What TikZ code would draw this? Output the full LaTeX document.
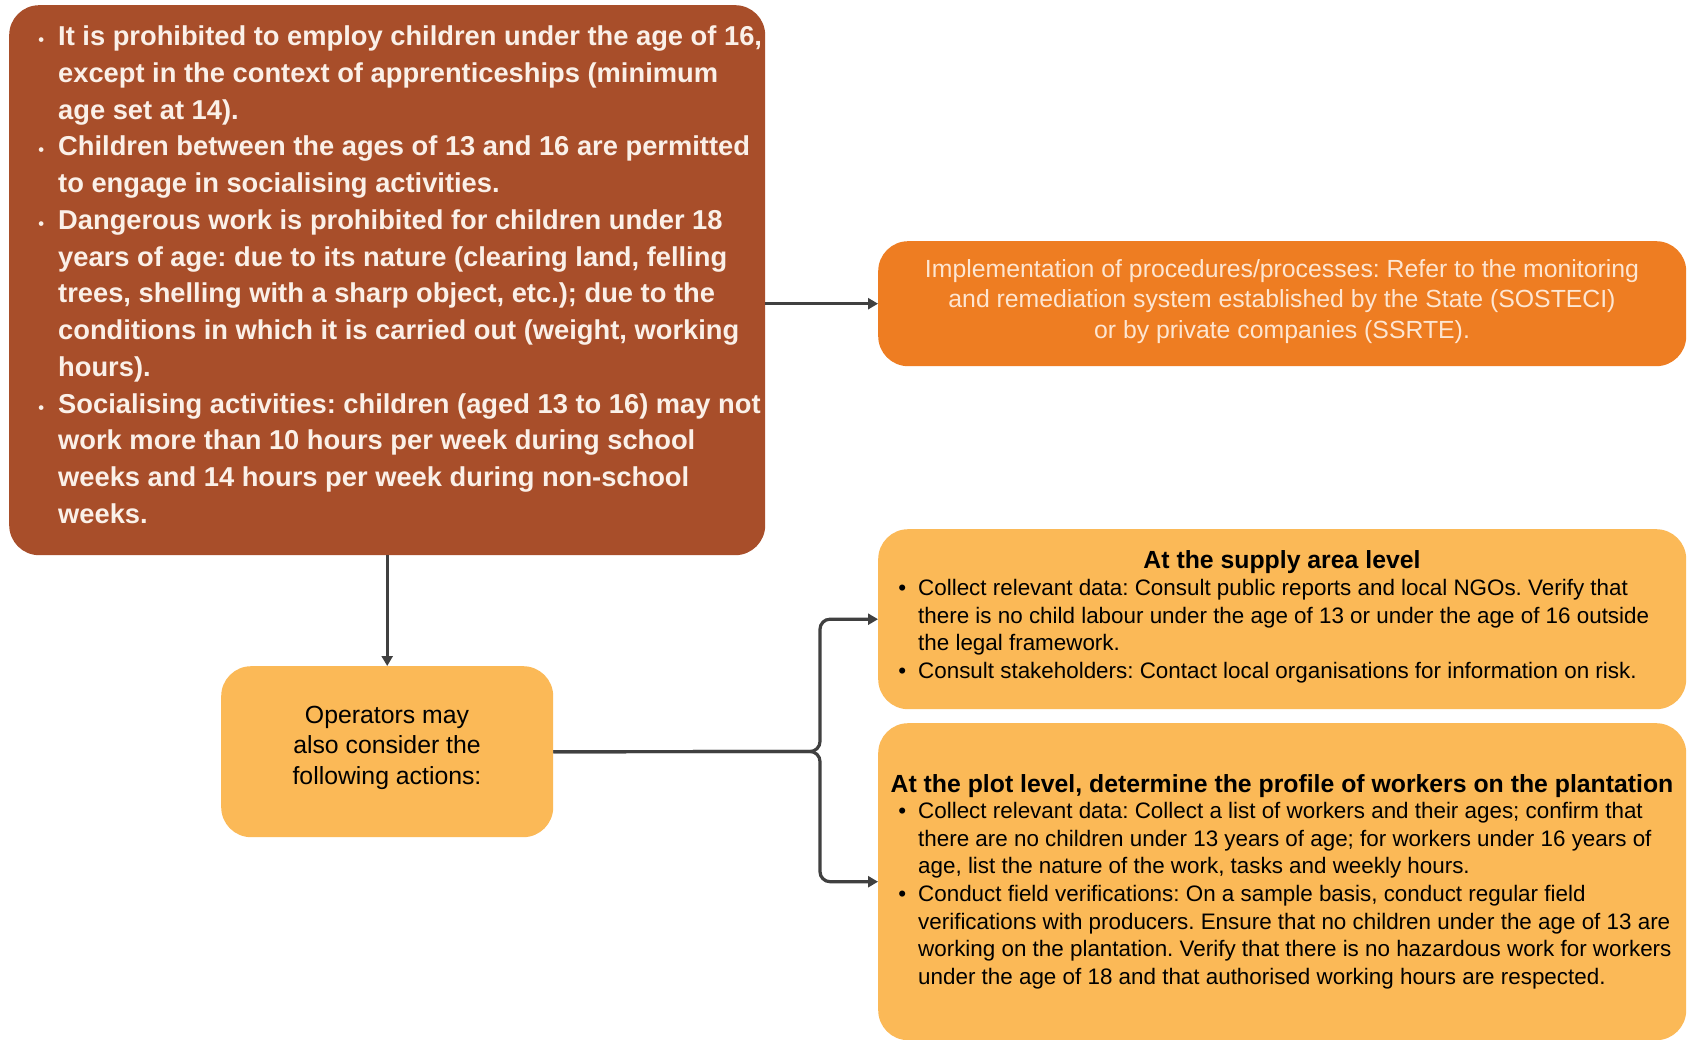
\documentclass[tikz,border=0pt]{standalone}
\usepackage{fontspec}
\usepackage{graphicx}
\setmainfont{Liberation Sans}
\usetikzlibrary{arrows.meta}
\definecolor{brownbox}{HTML}{A84E2A}
\definecolor{orangebox}{HTML}{EE7D22}
\definecolor{lightbox}{HTML}{FBB957}
\definecolor{conncol}{HTML}{404040}
\definecolor{creamtext}{HTML}{FDE6D2}
\definecolor{whitetext}{HTML}{FAF0E8}
\newcommand{\smbul}{\llap{\scalebox{0.6}{\textbullet}\hspace{14pt}}}
\newcommand{\rgbul}{\llap{\textbullet\hspace{12pt}}}
\tikzset{
  box/.style={rectangle, rounded corners=30pt, inner sep=0pt, anchor=north west, draw=none},
  bodytxt/.style={inner sep=0pt, anchor=north west, align=left, text=black, font=\fontsize{22.4}{27.65}\selectfont\frenchspacing},
  headtxt/.style={inner sep=0pt, anchor=north, align=center, text=black, font=\fontsize{24.8}{30}\selectfont\bfseries},
  conn/.style={draw=conncol, line width=3.2pt, -{Triangle[length=10pt,width=11pt]}}
}
\begin{document}
\begin{tikzpicture}[x=1pt,y=-1pt]
\useasboundingbox (0,0) rectangle (1689,1040);
\fill[white] (0,0) rectangle (1689,1040);

% boxes
\node[box, fill=brownbox, minimum width=756pt, minimum height=550pt] (law) at (9,5) {};
\node[box, fill=orangebox, minimum width=808pt, minimum height=125pt] (impl) at (878,241) {};
\node[box, fill=lightbox, minimum width=332pt, minimum height=171pt] (ops) at (221,666) {};
\node[box, fill=lightbox, minimum width=808pt, minimum height=180pt] (supply) at (878,529) {};
\node[box, fill=lightbox, minimum width=808pt, minimum height=317pt] (plot) at (878,723) {};

% brown box text
\node[inner sep=0pt, anchor=north west, align=left, text=whitetext,
      font=\fontsize{27.3}{36.73}\selectfont\bfseries\frenchspacing] (lawtext) at (58,19.8) {%
\smbul\strut It is prohibited to employ children under the age of 16,\\
except in the context of apprenticeships (minimum\\
age set at 14).\\
\smbul Children between the ages of 13 and 16 are permitted\\
to engage in socialising activities.\\
\smbul Dangerous work is prohibited for children under 18\\
years of age: due to its nature (clearing land, felling\\
trees, shelling with a sharp object, etc.); due to the\\
conditions in which it is carried out (weight, working\\
hours).\\
\smbul Socialising activities: children (aged 13 to 16) may not\\
work more than 10 hours per week during school\\
weeks and 14 hours per week during non-school\\
weeks.};

% implementation text
\node[inner sep=0pt, anchor=north, align=center, text=creamtext,
      font=\fontsize{24.8}{30.7}\selectfont\frenchspacing] (impltext) at (1282,255.5) {%
\strut Implementation of procedures/processes: Refer to the monitoring\\
and remediation system established by the State (SOSTECI)\\
or by private companies (SSRTE).};

% operators text
\node[inner sep=0pt, anchor=north, align=center, text=black,
      font=\fontsize{24.8}{30.7}\selectfont] (opstext) at (387,701.5) {%
\strut Operators may\\
also consider the\\
following actions:};

% supply text
\node[headtxt] (supplyhead) at (1282,547.5) {\strut At the supply area level};
\node[bodytxt] (supplytext) at (918,576) {%
\rgbul\strut Collect relevant data: Consult public reports and local NGOs. Verify that\\
there is no child labour under the age of 13 or under the age of 16 outside\\
the legal framework.\\
\rgbul Consult stakeholders: Contact local organisations for information on risk.};

% plot text
\node[headtxt] (plothead) at (1282,771.5) {\strut At the plot level, determine the profile of workers on the plantation};
\node[bodytxt] (plottext) at (918,799) {%
\rgbul\strut Collect relevant data: Collect a list of workers and their ages; confirm that\\
there are no children under 13 years of age; for workers under 16 years of\\
age, list the nature of the work, tasks and weekly hours.\\
\rgbul Conduct field verifications: On a sample basis, conduct regular field\\
verifications with producers. Ensure that no children under the age of 13 are\\
working on the plantation. Verify that there is no hazardous work for workers\\
under the age of 18 and that authorised working hours are respected.};

% connectors
\draw[conn] (impl.west -| law.east) -- (impl.west);
\draw[conn] (law.south) -- (ops.north);
\coordinate (branch) at (820,751.5);
\draw[conn, rounded corners=10pt] (ops.east) -- (branch) |- (supply.west);
\draw[conn, rounded corners=10pt] (ops.east) -- (branch) |- (plot.west);
\end{tikzpicture}
\end{document}
